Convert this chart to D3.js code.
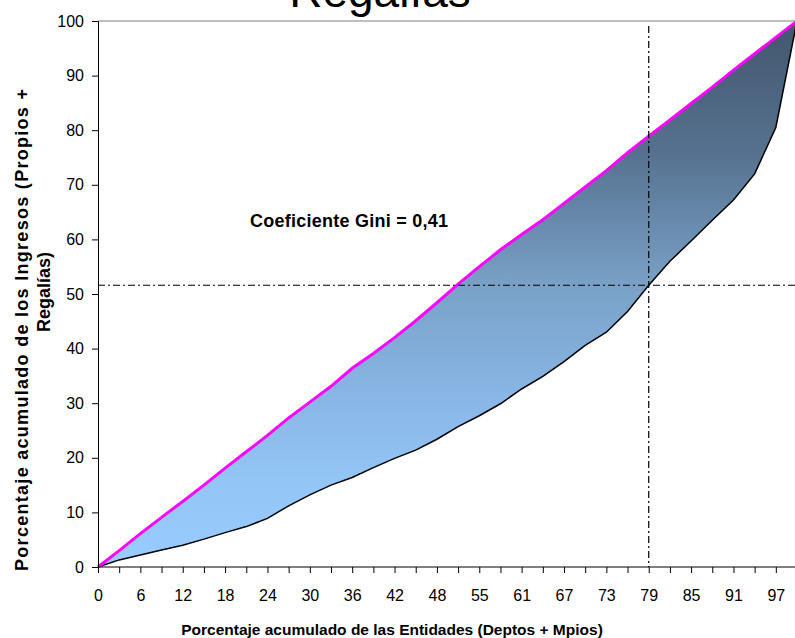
<!DOCTYPE html>
<html><head><meta charset="utf-8">
<script src="https://cdn.jsdelivr.net/npm/d3@7/dist/d3.min.js"></script>
<style>
body{margin:0;background:#fff;}
svg{display:block;font-family:Arial,"Liberation Sans",sans-serif;}
</style>
</head><body>
<svg id="chart" width="795" height="638"></svg>
<script>
// ---- data ----
const categories = [0,3,6,9,12,15,18,21,24,27,30,33,36,39,42,45,48,52,55,58,61,64,67,70,73,76,79,82,85,88,91,94,97,100];
const equalityLine = [0,3.0,6.1,9.1,12.0,15.0,18.1,21.1,24.1,27.3,30.2,33.1,36.4,39.1,42.0,45.1,48.4,51.8,55.0,58.1,60.9,63.6,66.6,69.6,72.6,75.9,78.9,81.9,84.9,87.9,91.0,94.0,97.0,100];
const lorenzCurve = [0,1.3,2.2,3.1,4.0,5.1,6.3,7.4,8.9,11.2,13.2,15.0,16.4,18.2,19.9,21.4,23.4,25.7,27.7,29.9,32.6,34.9,37.6,40.6,43.0,46.8,51.6,56.0,59.7,63.5,67.2,72.0,80.5,100];
const yTicks = [0,10,20,30,40,50,60,70,80,90,100];
const refCategory = 79;
const refValue = 51.6;
const titleText = "Regalías";
const giniText = "Coeficiente Gini = 0,41";
const xTitle = "Porcentaje acumulado de las Entidades (Deptos + Mpios)";
const yTitleLines = ["Porcentaje acumulado de los Ingresos (Propios +", "Regalías)"];

(function () {
// ---- layout ----
const svg = d3.select("#chart");
const pLeft = 98, pRight = 797, pTop = 21, pBottom = 567;
const x = d3.scalePoint().domain(categories).range([pLeft, pRight]);
const y = d3.scaleLinear().domain([0, 100]).range([pBottom, pTop]);
const FONT = "Arial, 'Liberation Sans', sans-serif";

// gradient
const defs = svg.append("defs");
const grad = defs.append("linearGradient").attr("id", "fillGrad")
  .attr("gradientUnits", "userSpaceOnUse")
  .attr("x1", 0).attr("x2", 0).attr("y1", pTop).attr("y2", pBottom);
[[0, "#42566D"], [0.24, "#56718F"], [0.49, "#7AA2C8"], [0.69, "#89B6E6"], [0.84, "#93C5F5"], [1, "#99CCFF"]]
  .forEach(([o, c]) => grad.append("stop").attr("offset", o).attr("stop-color", c));

// title (cut at top, as in the reference)
svg.append("text").attr("x", 380).attr("y", 7).attr("text-anchor", "middle")
  .attr("font-size", 46).attr("fill", "#000").text(titleText);

// plot border top
svg.append("line").attr("x1", pLeft).attr("x2", 795).attr("y1", pTop).attr("y2", pTop)
  .attr("stroke", "#808080").attr("stroke-width", 1.2);

// area between lines
const pts = categories.map((c, i) => ({c, hi: equalityLine[i], lo: lorenzCurve[i]}));
svg.append("path").datum(pts)
  .attr("d", d3.area().x(d => x(d.c)).y0(d => y(d.lo)).y1(d => y(d.hi)))
  .attr("fill", "url(#fillGrad)");

svg.append("path").datum(pts)
  .attr("d", d3.line().x(d => x(d.c)).y(d => y(d.lo)))
  .attr("fill", "none").attr("stroke", "#000").attr("stroke-width", 1.5);

svg.append("path").datum(pts)
  .attr("d", d3.line().x(d => x(d.c)).y(d => y(d.hi)))
  .attr("fill", "none").attr("stroke", "#FF00FF").attr("stroke-width", 3);

// reference dash-dot lines
svg.append("line").attr("x1", x(refCategory)).attr("x2", x(refCategory))
  .attr("y1", pTop + 5).attr("y2", pBottom)
  .attr("stroke", "#000").attr("stroke-width", 1.2).attr("stroke-dasharray", "7,3,2,3");
svg.append("line").attr("x1", pLeft).attr("x2", 795)
  .attr("y1", y(refValue)).attr("y2", y(refValue))
  .attr("stroke", "#000").attr("stroke-width", 1.2).attr("stroke-dasharray", "7,3,2,3");

// y axis
const yAxis = svg.append("g").attr("transform", `translate(${pLeft},0)`)
  .call(d3.axisLeft(y).tickValues(yTicks).tickSize(6).tickPadding(8).tickFormat(d3.format("d")));
yAxis.selectAll("text").attr("font-size", 16).attr("font-family", FONT).attr("fill", "#000");
yAxis.select(".domain").attr("stroke", "#000");
yAxis.selectAll(".tick line").attr("stroke", "#000");

// x axis
const xAxis = svg.append("g").attr("transform", `translate(0,${pBottom})`)
  .call(d3.axisBottom(x).tickSize(6).tickPadding(17)
    .tickFormat((d, i) => i % 2 === 0 && i < categories.length - 1 ? d : ""));
xAxis.selectAll("text").attr("font-size", 16).attr("font-family", FONT).attr("fill", "#000");
xAxis.select(".domain").attr("stroke", "#000").attr("d", `M${pLeft},0H795`);
xAxis.selectAll(".tick line").attr("stroke", "#000");

// annotation
svg.append("text").attr("x", 250).attr("y", 227).attr("font-size", 18)
  .attr("font-weight", "bold").attr("fill", "#000")
  .attr("textLength", 198).attr("lengthAdjust", "spacing").text(giniText);

// axis titles
svg.append("text").attr("x", 392).attr("y", 635).attr("text-anchor", "middle")
  .attr("font-size", 15.5).attr("font-weight", "bold").attr("fill", "#000").text(xTitle);

const yt1 = svg.append("text").attr("transform", "translate(28,330) rotate(-90)")
  .attr("text-anchor", "middle").attr("font-size", 18).attr("font-weight", "bold").attr("fill", "#000")
  .attr("textLength", 482).attr("lengthAdjust", "spacing").text(yTitleLines[0]);
svg.append("text").attr("transform", "translate(50,292) rotate(-90)")
  .attr("text-anchor", "middle").attr("font-size", 18).attr("font-weight", "bold").attr("fill", "#000")
  .text(yTitleLines[1]);
})();
</script>
</body></html>
